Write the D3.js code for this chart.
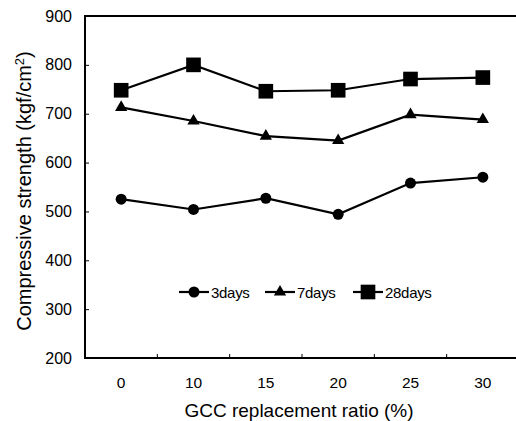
<!DOCTYPE html>
<html>
<head>
<meta charset="utf-8">
<script src="https://cdn.jsdelivr.net/npm/d3@7"></script>
<style>
  body { margin: 0; background: #fff; }
  svg { font-family: "Liberation Sans", Arial, sans-serif; }
</style>
</head>
<body>
<svg id="chart" width="516" height="421"></svg>
<script>
// replacement ratios (%)
var categories = ["0", "10", "15", "20", "25", "30"];

// compressive strength per curing age (kgf/cm2)
var days3 = [525, 504, 527, 494, 558, 570];
var days7 = [713, 685, 654, 645, 698, 688];
var days28 = [748, 800, 746, 748, 771, 774];

var seriesNames = ["3days", "7days", "28days"];
var yTicks = [200, 300, 400, 500, 600, 700, 800, 900];

var series = [
  { name: seriesNames[0], values: days3, symbol: d3.symbolCircle, size: 95 },
  { name: seriesNames[1], values: days7, symbol: d3.symbolTriangle, size: 65 },
  { name: seriesNames[2], values: days28, symbol: d3.symbolSquare, size: 215 }
];

var svg = d3.select("#chart");

// plot box (right edge runs past the picture, as in the scan)
var plotLeft = 85, plotRight = 519, plotTop = 16, plotBottom = 358;

var x = d3.scaleBand().domain(categories).range([plotLeft, plotRight]);
var y = d3.scaleLinear().domain([200, 900]).range([plotBottom, plotTop]);

// frame
svg.append("rect")
  .attr("x", plotLeft)
  .attr("y", plotTop)
  .attr("width", plotRight - plotLeft)
  .attr("height", plotBottom - plotTop)
  .attr("fill", "none")
  .attr("stroke", "#000")
  .attr("stroke-width", 2);

// y axis, ticks pointing inward
var yAxis = svg.append("g")
  .attr("transform", "translate(" + plotLeft + ",0)")
  .call(d3.axisLeft(y).tickValues(yTicks).tickSize(-4).tickPadding(13));
yAxis.select(".domain").remove();
yAxis.selectAll("text").attr("font-size", 16).attr("fill", "#000");

// x axis labels at band centres
var xAxis = svg.append("g")
  .attr("transform", "translate(0," + plotBottom + ")")
  .call(d3.axisBottom(x).tickSize(0).tickPadding(19));
xAxis.select(".domain").remove();
xAxis.selectAll("text").attr("font-size", 15.5).attr("fill", "#000");

// x tick marks at band boundaries
svg.append("g").selectAll("line")
  .data(categories.slice(1))
  .enter().append("line")
  .attr("x1", function(d) { return x(d); })
  .attr("x2", function(d) { return x(d); })
  .attr("y1", plotBottom)
  .attr("y2", plotBottom - 4)
  .attr("stroke", "#000")
  .attr("stroke-width", 1);

// lines + markers
var line = d3.line()
  .x(function(d, i) { return x(categories[i]) + x.bandwidth() / 2; })
  .y(function(d) { return y(d); });

series.forEach(function(s) {
  svg.append("path")
    .datum(s.values)
    .attr("d", line)
    .attr("fill", "none")
    .attr("stroke", "#000")
    .attr("stroke-width", 2.2);

  svg.append("g").selectAll("path")
    .data(s.values)
    .enter().append("path")
    .attr("transform", function(d, i) {
      return "translate(" + (x(categories[i]) + x.bandwidth() / 2) + "," + y(d) + ")";
    })
    .attr("d", d3.symbol().type(s.symbol).size(s.size))
    .attr("fill", "#000");
});

// legend
var legendX = [179, 265, 353];
var legend = svg.append("g").attr("transform", "translate(0,292)");
series.forEach(function(s, i) {
  var g = legend.append("g").attr("transform", "translate(" + legendX[i] + ",0)");
  g.append("line")
    .attr("x1", 0).attr("x2", 30)
    .attr("y1", 0).attr("y2", 0)
    .attr("stroke", "#000").attr("stroke-width", 2.2);
  g.append("path")
    .attr("transform", "translate(15,0)")
    .attr("d", d3.symbol().type(s.symbol).size(s.size))
    .attr("fill", "#000");
  g.append("text")
    .attr("x", 32)
    .attr("y", 6)
    .attr("font-size", 15)
    .attr("letter-spacing", -0.3)
    .text(s.name);
});

// axis titles
svg.append("text")
  .attr("x", 299)
  .attr("y", 417)
  .attr("text-anchor", "middle")
  .attr("font-size", 19)
  .text("GCC replacement ratio (%)");

var yTitle = svg.append("text")
  .attr("transform", "translate(31,191) rotate(-90)")
  .attr("text-anchor", "middle")
  .attr("font-size", 20);
yTitle.append("tspan").text("Compressive strength (kgf/cm");
yTitle.append("tspan").attr("baseline-shift", "super").attr("font-size", 13).text("2");
yTitle.append("tspan").text(")");
</script>
</body>
</html>
